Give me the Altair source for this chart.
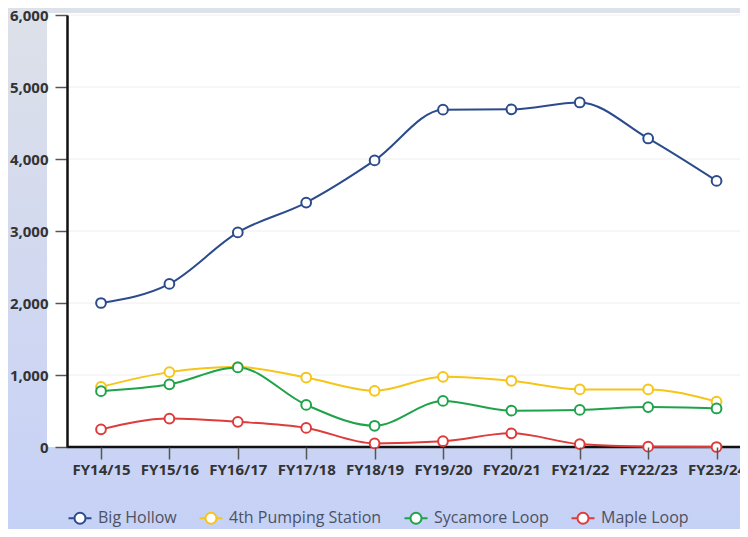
import altair as alt
import pandas as pd

years = ["FY14/15", "FY15/16", "FY16/17", "FY17/18", "FY18/19",
         "FY19/20", "FY20/21", "FY21/22", "FY22/23", "FY23/24"]
series_names = ["Big Hollow", "4th Pumping Station", "Sycamore Loop", "Maple Loop"]
big_hollow = [2000, 2265, 2980, 3395, 3980, 4685, 4690, 4785, 4285, 3695]
pumping = [835, 1040, 1110, 965, 780, 975, 920, 800, 800, 630]
sycamore = [775, 870, 1105, 585, 295, 640, 505, 515, 555, 535]
maple = [245, 395, 350, 265, 50, 80, 190, 40, 5, 0]
series_colors = ["#2b4b8c", "#f5c518", "#1fa34a", "#de3b3b"]
y_ticks = [0, 1000, 2000, 3000, 4000, 5000, 6000]

rows = []
for name, vals in zip(series_names, [big_hollow, pumping, sycamore, maple]):
    for yr, v in zip(years, vals):
        rows.append({"year": yr, "value": v, "series": name})
df = pd.DataFrame(rows)

W, H = 673, 432
PAD_T, PAD_B = 7, 82
one = pd.DataFrame({"a": [0]})
grid_df = pd.DataFrame({"value": y_ticks[1:]})
zero_df = pd.DataFrame({"value": [0]})

y_scale = alt.Scale(domain=[0, 6000], nice=False)
y_axis = alt.Axis(title=None, values=y_ticks, format=",.0f", grid=False,
                  domain=True, domainColor="#111111", domainWidth=2.5,
                  tickSize=12, tickColor="#555555", tickWidth=1.5,
                  labelPadding=7, labelFontSize=15, labelFontWeight="bold",
                  labelColor="#333333", labelFont="Open Sans", zindex=1)
x_enc = alt.X("year:N", sort=years,
              scale=alt.Scale(type="point", padding=0.42, align=0.592),
              axis=alt.Axis(title=None, labelAngle=0, domain=False, ticks=True,
                            tickSize=12, tickColor="#555555", tickWidth=1.5,
                            labelPadding=3, labelFontSize=15, labelFontWeight="bold",
                            labelColor="#333333", labelFont="Open Sans", grid=False,
                            zindex=1))
y_enc = alt.Y("value:Q", scale=y_scale, axis=y_axis)

sym_path = "M-2.3,0H-1.1M1.1,0H2.3M-1.1,0A1.1,1.1 0 1,0 1.1,0A1.1,1.1 0 1,0 -1.1,0Z"
stroke_enc = alt.Stroke("series:N",
                        scale=alt.Scale(domain=series_names, range=series_colors),
                        legend=alt.Legend(title=None, orient="none", direction="horizontal",
                                          legendX=5, legendY=495,
                                          symbolType=sym_path, symbolSize=100,
                                          symbolFillColor="white", symbolStrokeWidth=2,
                                          labelFontSize=16, labelColor="#4d5262",
                                          labelFont="Open Sans", labelOffset=10,
                                          labelLimit=0, columnPadding=18, padding=0))

bg = alt.Chart(one).mark_rect(
    fill=alt.Gradient(gradient="linear",
                      stops=[alt.GradientStop(color="#dde1e9", offset=0),
                             alt.GradientStop(color="#d4daee", offset=0.4),
                             alt.GradientStop(color="#c6d1f7", offset=1)],
                      x1=0, x2=0, y1=0, y2=1)
).encode(x=alt.value(-59), x2=alt.value(W), y=alt.value(-PAD_T), y2=alt.value(H + PAD_B))

plot_bg = alt.Chart(one).mark_rect(fill="white").encode(
    x=alt.value(-20), x2=alt.value(W), y=alt.value(-2), y2=alt.value(H))

grid = alt.Chart(grid_df).mark_rule(color="#eeeeee", strokeWidth=1).encode(y=y_enc)

xline = alt.Chart(zero_df).mark_rule(color="#111111", strokeWidth=2.5).encode(y=y_enc)

base = alt.Chart(df)
lines = base.mark_line(strokeWidth=2, interpolate="monotone").encode(
    x=x_enc, y=y_enc, stroke=stroke_enc)
points = base.mark_point(shape="circle", size=95, filled=True, fill="white",
                         fillOpacity=1, opacity=1, strokeWidth=2).encode(
    x=x_enc, y=y_enc, stroke=stroke_enc)

chart = alt.layer(bg, plot_bg, grid, xline, lines, points).properties(
    width=W, height=H,
    autosize=alt.AutoSizeParams(type="none"),
    padding={"left": 59, "top": PAD_T, "right": 0, "bottom": PAD_B},
).configure_view(stroke=None).resolve_scale(y="shared")

chart.save("out.html", embed_options={"renderer": "svg", "actions": False})
